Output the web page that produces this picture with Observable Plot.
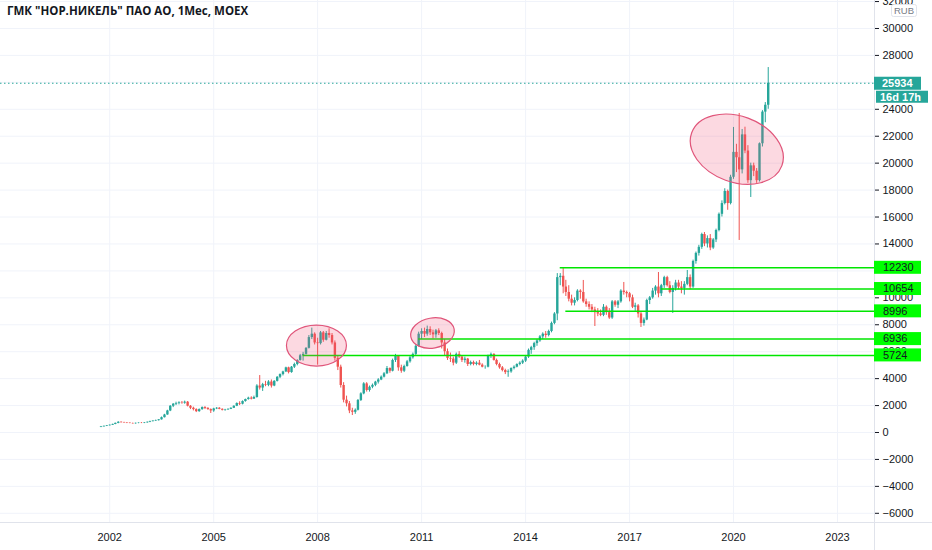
<!DOCTYPE html>
<html><head><meta charset="utf-8">
<script src="https://cdn.jsdelivr.net/npm/d3@7"></script>
<script src="https://cdn.jsdelivr.net/npm/@observablehq/plot@0.6"></script>
<style>
body{margin:0;background:#fff;}
#wrap{position:relative;width:932px;height:550px;overflow:hidden;}
#title{position:absolute;left:7px;top:3px;z-index:2;font:bold 11.5px "Open Sans","Liberation Sans",sans-serif;color:#131722;white-space:nowrap;}
</style></head><body>
<div id="wrap"><div id="title">ГМК "НОР.НИКЕЛЬ" ПАО АО, 1Мес, MOEX</div></div>
<script>
// ---- DATA (monthly candles, RUB) ----
const firstMonth = "2001-10-01";
const open = [
  380,420,460,
  500,540,600,680,760,730,710,690,670,650,680,700,
  690,720,760,810,850,880,940,1100,1300,1600,1950,2100,
  2150,2200,2180,2250,1950,1800,1700,1550,1700,1850,1780,1700,
  1600,1750,1800,1720,1650,1680,1720,1800,1950,2150,2100,2300,
  2450,2550,2480,2600,3450,3300,3550,3500,3750,3450,3800,4100,
  4300,4500,4800,4450,4850,5050,5350,5700,5800,6250,7050,7300,
  6650,6600,7400,6850,7350,7200,6650,5500,4850,3490,2400,2130,
  1600,1500,1650,2380,2870,3610,3120,3360,3500,3740,3900,4110,
  4360,4750,4550,5350,5650,4800,4550,4900,5250,5550,5800,6400,
  7300,7500,7300,7650,7400,7250,7550,7350,6650,6000,5500,5450,
  5150,5800,5600,5350,5450,5050,5200,5050,5150,5000,4850,4850,
  5700,5800,5350,5050,4800,4600,4450,4500,4750,4850,5050,5150,
  5300,5600,6100,6300,6600,6800,7100,7300,7200,7500,8100,8800,
  11500,11600,10800,10400,9900,9600,9800,10500,10400,9700,9500,9300,
  9100,8900,8800,8700,9300,8900,8500,9700,9450,9700,10500,10400,
  10300,10000,9300,9400,8800,8100,8350,9800,10000,10500,10800,10300,
  10900,11500,10900,10400,10700,11100,10800,10700,11000,11500,10800,12700,
  13300,13750,14700,14000,14400,13700,14300,15000,16200,17000,17900,17000,
  18950,20800,20400,19500,22100,20900,18700,19800,19400,18700,21440,23790,
  24300
];
const high = [
  450,480,520,
  560,620,700,800,790,760,740,720,700,700,720,740,
  740,780,840,870,920,960,1150,1350,1650,2000,2150,2250,
  2280,2300,2330,2300,2000,1880,1760,1750,1900,1920,1850,1750,
  1800,1850,1850,1760,1720,1760,1830,1980,2200,2280,2350,2480,
  2620,2650,2700,3550,4230,3650,3800,3850,3900,3850,4150,4350,
  4550,4850,4850,4900,5150,5400,5800,5950,6300,7200,7750,7400,
  7000,7500,7500,7500,7700,7350,6800,5700,5000,3700,2700,2300,
  1800,1750,2450,2950,3700,3700,3450,3600,3800,4000,4200,4450,
  4900,4800,5450,5800,5700,5000,5000,5350,5650,5900,6500,7450,
  7700,7750,7900,7850,7600,7650,7700,7450,6900,6200,5900,5600,
  5900,6000,5700,5600,5500,5300,5300,5250,5350,5100,4950,5750,
  5900,5850,5450,5150,4900,4700,4650,4800,4950,5100,5250,5400,
  5700,6200,6400,6700,6900,7200,7400,7500,7600,8200,8900,11800,
  11800,12230,11300,10900,10200,10000,10600,10600,11290,9900,9700,9500,
  9300,9200,9100,9500,9400,9200,9800,9800,9800,10600,11140,10500,
  10400,10200,9600,9500,8900,8500,9900,10100,10700,10900,11880,11000,
  11600,11600,11200,10900,11300,11300,11200,11200,12030,11700,12800,13400,
  13900,14800,14850,14600,14700,14400,15100,16300,17200,18100,18000,19100,
  22650,21400,23690,22500,22670,21300,20000,20000,19600,21500,23900,24500,
  27100
];
const low = [
  360,400,440,
  480,520,580,650,700,680,660,650,620,620,650,660,
  660,690,730,780,820,850,920,1080,1280,1550,1850,2000,
  2050,2100,2100,1900,1700,1600,1480,1500,1650,1700,1650,1410,
  1500,1700,1690,1600,1580,1640,1700,1780,1920,2000,2050,2250,
  2400,2420,2450,2550,3150,3050,3400,3400,3300,3400,3750,4000,
  4200,4450,4350,4400,4750,4950,5300,5300,5750,6200,6900,6500,
  5000,6500,6700,6800,7000,6500,5300,4600,3300,2200,1900,1400,
  1260,1350,1600,2300,2800,3000,3000,3250,3400,3600,3850,4050,
  4300,4400,4500,5200,4550,4400,4450,4850,5150,5450,5700,6350,
  6900,7050,7150,7200,6950,7000,7200,6200,5700,5350,5200,4950,
  5050,5500,5200,5150,4900,4950,4950,4950,4950,4800,4700,4800,
  5500,5300,4950,4700,4500,4300,4100,4400,4650,4800,4950,5050,
  5200,5500,5800,6100,6400,6700,6900,7000,7100,7400,8000,8300,
  10900,10300,10100,9700,9400,9400,9700,9900,9600,9300,9100,8900,
  7870,8600,8600,8600,8700,8400,8400,9300,9200,9600,10200,10000,
  9700,9200,9000,8500,7800,7900,8300,9500,9900,10200,10000,10100,
  10700,10800,10300,8840,10500,10600,10300,10200,10900,10600,10700,12500,
  13100,13600,13800,13700,13500,13600,14100,14900,16000,16900,16500,16900,
  18800,19300,14260,19200,20700,18500,17450,19000,18500,18600,21200,23000,
  24000
];
const close = [
  420,460,500,
  540,600,680,760,730,710,690,670,650,680,700,690,
  720,760,810,850,880,940,1100,1300,1600,1950,2100,2150,
  2200,2180,2250,1950,1800,1700,1550,1700,1850,1780,1700,1600,
  1750,1800,1720,1650,1680,1720,1800,1950,2150,2100,2300,2450,
  2550,2480,2600,3450,3300,3550,3500,3750,3450,3800,4100,4300,
  4500,4800,4450,4850,5050,5350,5700,5800,6250,7050,7300,6650,
  6600,7400,6850,7350,7200,6650,5500,4850,3490,2400,2130,1600,
  1500,1650,2380,2870,3610,3120,3360,3500,3740,3900,4110,4360,
  4750,4550,5350,5650,4800,4550,4900,5250,5550,5800,6400,7300,
  7500,7300,7650,7400,7250,7550,7350,6650,6000,5500,5450,5150,
  5800,5600,5350,5450,5050,5200,5050,5150,5000,4850,4850,5700,
  5800,5350,5050,4800,4600,4450,4500,4750,4850,5050,5150,5300,
  5600,6100,6300,6600,6800,7100,7300,7200,7500,8100,8800,11500,
  11600,10800,10400,9900,9600,9800,10500,10400,9700,9500,9300,9100,
  8900,8800,8700,9300,8900,8500,9700,9450,9700,10500,10400,10300,
  10000,9300,9400,8800,8100,8350,9800,10000,10500,10800,10300,10900,
  11500,10900,10400,10700,11100,10800,10700,11000,11500,10800,12700,13300,
  13750,14700,14000,14400,13700,14300,15000,16200,17000,17900,17000,18950,
  20800,20400,19500,22100,20900,18700,19800,19400,18700,21440,23790,24300,
  25934
];
// horizontal support levels
const levelValues = [12230, 10654, 8996, 6936, 5724];
const levelStarts = ["2015-01-01", "2017-12-01", "2015-03-01", "2010-12-01", "2007-08-01"];
// highlighted zones (centre date / price)
const zoneDates = ["2007-12-25", "2011-05-01", "2020-02-10"];
const zoneValues = [6420, 7350, 21000];
// tick labels
const yearTickLabels = [2002, 2005, 2008, 2011, 2014, 2017, 2020, 2023];
const priceTickValues = [-6000,-4000,-2000,0,2000,4000,6000,8000,10000,12000,14000,16000,18000,20000,22000,24000,26000,28000,30000,32000];
const hiddenPriceLabels = [12000, 26000]; // covered by price tags in the reference
const lastPrice = 25934;
const countdown = "16d 17h";
const currency = "RUB";

// ---- build table ----
const start = new Date(firstMonth + "T00:00:00Z");
const candles = close.map((c, i) => ({
  date: d3.utcMonth.offset(start, i), open: open[i], high: high[i], low: low[i], close: c
}));
const levels = levelValues.map((v, i) => ({value: v, start: new Date(levelStarts[i] + "T00:00:00Z")}));
const yearTicks = yearTickLabels.map(y => new Date(Date.UTC(y, 0, 1)));

const UP = "#26a69a", DOWN = "#ef5350", GRID = "#f0f3fa", LEVEL = "#00e600";
const xDomain = [new Date("1998-11-07T00:00:00Z"), new Date("2024-01-26T00:00:00Z")];
const yDomain = [-6683, 32078];
const isUp = d => d.close >= d.open;
const fmtPrice = d => hiddenPriceLabels.includes(d) ? "" : (d < 0 ? "\u2212" + Math.abs(d) : String(d));

const chart = Plot.plot({
  width: 932, height: 550,
  marginLeft: 0, marginRight: 58, marginTop: 0, marginBottom: 28,
  style: {fontFamily: "'Liberation Sans', Arial, sans-serif", fontSize: "11px", color: "#131722", background: "#fff"},
  x: {type: "utc", domain: xDomain, ticks: yearTicks, tickFormat: d3.utcFormat("%Y"), tickSize: 0, tickPadding: 11, label: null},
  y: {domain: yDomain, axis: "right", ticks: priceTickValues, tickSize: 4, tickPadding: 4, tickFormat: fmtPrice, label: null},
  marks: [
    Plot.ruleY(priceTickValues, {stroke: GRID}),
    Plot.ruleX(yearTicks, {stroke: GRID}),
    Plot.ruleY([lastPrice], {stroke: UP, strokeDasharray: "1.5,2.5", strokeWidth: 1}),
    Plot.ruleX(candles, {filter: isUp, x: "date", y1: "low", y2: "high", stroke: UP, strokeWidth: 1}),
    Plot.ruleX(candles, {filter: d => !isUp(d), x: "date", y1: "low", y2: "high", stroke: DOWN, strokeWidth: 1}),
    Plot.ruleX(candles, {filter: isUp, x: "date", y1: "open", y2: "close", stroke: UP, strokeWidth: 2.4}),
    Plot.ruleX(candles, {filter: d => !isUp(d), x: "date", y1: "open", y2: "close", stroke: DOWN, strokeWidth: 2.4}),
    Plot.ruleY(levels, {y: "value", x1: "start", x2: () => xDomain[1], stroke: LEVEL, strokeWidth: 1.5})
  ]
});

document.getElementById("wrap").appendChild(chart);

// ---- annotations through the plot's own scales ----
const xs = chart.scale("x"), ys = chart.scale("y");
const X = xs.apply ? (d => xs.apply(d)) : d3.scaleUtc(xs.domain, xs.range);
const Y = ys.apply ? (v => ys.apply(v)) : d3.scaleLinear(ys.domain, ys.range);
const svg = d3.select(chart);
const zoneShape = [{rx: 30, ry: 20.5, a: 0}, {rx: 22, ry: 15, a: -10}, {rx: 48, ry: 33, a: 20}];
const zg = svg.append("g");
zoneDates.forEach((d, i) => {
  const cx = X(new Date(d + "T00:00:00Z")), cy = Y(zoneValues[i]);
  zg.append("ellipse").attr("cx", cx).attr("cy", cy).attr("rx", zoneShape[i].rx).attr("ry", zoneShape[i].ry)
    .attr("transform", `rotate(${zoneShape[i].a},${cx},${cy})`)
    .attr("fill", "rgba(242,80,120,0.22)").attr("stroke", "#e0557a").attr("stroke-width", 1.2);
});

const right = 932 - 58;
// borders
svg.append("line").attr("x1", right + 0.5).attr("x2", right + 0.5).attr("y1", 0).attr("y2", 550).attr("stroke", "#e0e3eb");
svg.append("line").attr("x1", 0).attr("x2", 932).attr("y1", 522.5).attr("y2", 522.5).attr("stroke", "#e0e3eb");

const lg = svg.append("g").attr("font-size", 11).attr("text-anchor", "start");
levels.forEach(l => {
  const y = Y(l.value);
  lg.append("rect").attr("x", right).attr("y", y - 6.5).attr("width", 47).attr("height", 13).attr("fill", "#00ff00");
  lg.append("text").attr("x", right + 9).attr("y", y).attr("dy", "0.35em").attr("fill", "#131722").text(l.value);
});
const py = Y(lastPrice);
lg.append("rect").attr("x", right).attr("y", py - 6).attr("width", 47).attr("height", 13).attr("fill", UP);
lg.append("text").attr("x", right + 8).attr("y", py + 0.5).attr("dy", "0.35em").attr("fill", "#fff").attr("font-weight", "bold").text(lastPrice);
lg.append("rect").attr("x", right + 2).attr("y", py + 8).attr("width", 52).attr("height", 12).attr("fill", UP);
lg.append("text").attr("x", right + 6).attr("y", py + 14).attr("dy", "0.35em").attr("fill", "#fff").attr("font-weight", "bold").text(countdown);
lg.append("rect").attr("x", right + 17.5).attr("y", 4.5).attr("width", 25).attr("height", 12).attr("rx", 2).attr("fill", "#fff").attr("stroke", "#e0e3eb");
lg.append("text").attr("x", right + 30).attr("y", 10.5).attr("dy", "0.35em").attr("text-anchor", "middle").attr("font-size", 9.5).attr("fill", "#787b86").text(currency);
</script>
</body></html>
